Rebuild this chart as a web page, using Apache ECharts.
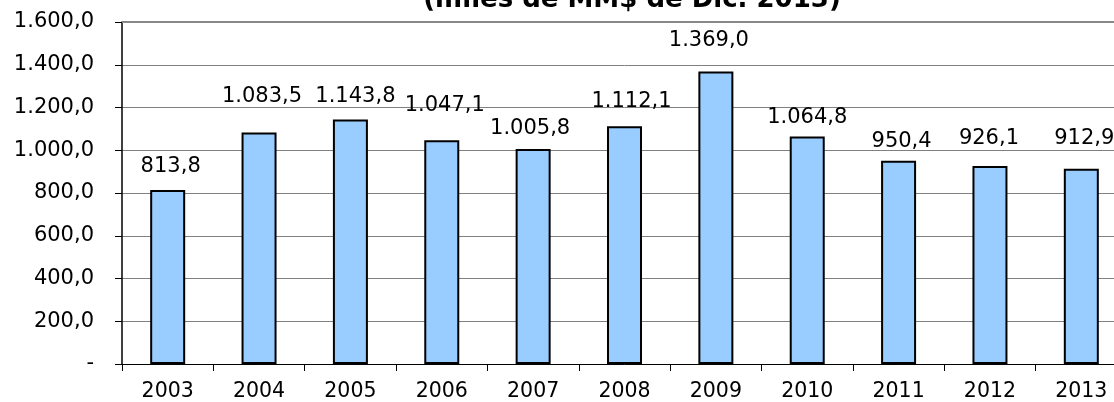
<!DOCTYPE html>
<html>
<head>
<meta charset="utf-8">
<script src="https://cdn.jsdelivr.net/npm/echarts@6/dist/echarts.min.js"></script>
<style>
html,body{margin:0;padding:0;background:#fff;overflow:hidden;}
#c{width:1140px;height:402px;}
</style>
</head>
<body>
<div id="c"></div>
<script>
const titleText = "(miles de MM$ de Dic. 2013)";
const categories = ["2003","2004","2005","2006","2007","2008","2009","2010","2011","2012","2013"];
const values = [813.8, 1083.5, 1143.8, 1047.1, 1005.8, 1112.1, 1369.0, 1064.8, 950.4, 926.1, 912.9];
const yTicks = [0, 200, 400, 600, 800, 1000, 1200, 1400, 1600];

// label placement style (pixels from bar top to label centre, horizontal nudge)
const labelLift = [24, 36, 23, 35, 20, 25, 31, 19, 19, 27, 30];
const labelShift = [3, 3, 5, 3, -3, 7, -7, 0, 3, -1, 3];

function fmt(v){
  if (v === 0) return "-";
  const parts = v.toFixed(1).split(".");
  const int = parts[0].replace(/\B(?=(\d{3})+(?!\d))/g, ".");
  return int + "," + parts[1];
}

const chart = echarts.init(document.getElementById('c'), null, {renderer:'canvas'});
const FONT = "'DejaVu Sans', Verdana, sans-serif";
chart.setOption({
  animation:false,
  backgroundColor:'#fff',
  graphic:[{
    type:'text', x:632, y:13,
    style:{text:titleText, font:"bold 26px 'DejaVu Sans', Verdana, sans-serif", fill:'#000',
      textAlign:'center', textVerticalAlign:'bottom'}
  }],
  grid:{left:122, top:22, width:1005, height:342},
  xAxis:{
    type:'category', data:categories, boundaryGap:true,
    axisLine:{lineStyle:{color:'#000', width:1}},
    axisTick:{show:true, length:7, alignWithLabel:false, lineStyle:{color:'#000'}},
    axisLabel:{color:'#000', fontFamily:FONT, fontSize:20.5, margin:17},
    splitLine:{show:false}
  },
  yAxis:{
    type:'value', min:yTicks[0], max:yTicks[yTicks.length-1], interval:200,
    axisLine:{show:true, lineStyle:{color:'#000', width:1.5}},
    axisTick:{show:true, length:7, inside:false, lineStyle:{color:'#000'}},
    axisLabel:{color:'#000', fontFamily:FONT, fontSize:21, margin:28, formatter:fmt},
    splitLine:{show:true, lineStyle:{color:'#808080', width:1}}
  },
  series:[{
    type:'bar',
    barWidth:35,
    itemStyle:{color:'#99CCFF', borderColor:'#000', borderWidth:2},
    data: values.map((v,i)=>({
      value:v,
      label:{show:true, position:'top', distance:labelLift[i]-10, offset:[labelShift[i],0],
        formatter:()=>fmt(v), color:'#000', fontFamily:FONT, fontSize:21, lineHeight:20}
    }))
  },{
    type:'line', data:[], markLine:{silent:true, symbol:'none', label:{show:false},
      lineStyle:{color:'#888', width:2, type:'solid'},
      data:[{yAxis:yTicks[yTicks.length-1]}]}
  }]
});
</script>
</body>
</html>
